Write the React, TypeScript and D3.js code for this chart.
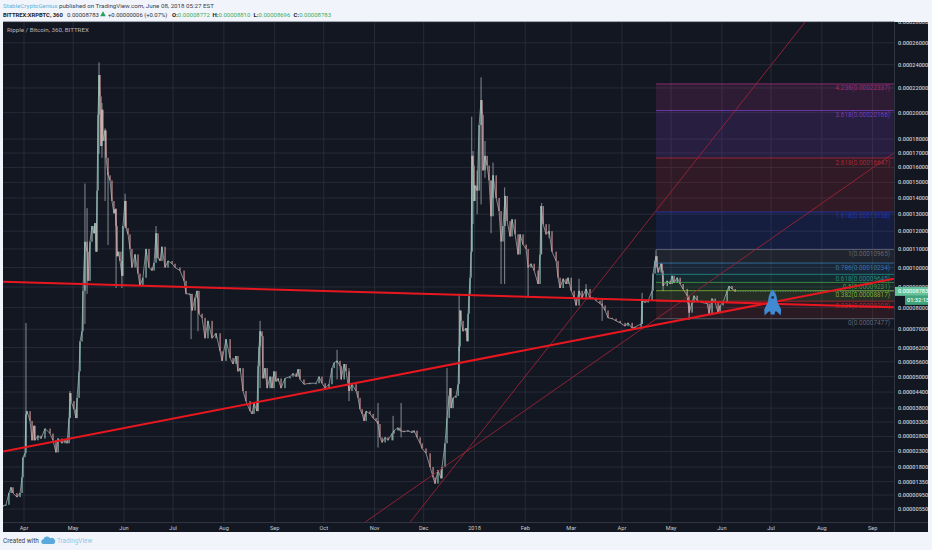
import * as d3 from "d3";

// prices are in satoshi (1e-8 BTC), days are counted from 2017-04-01
const barDays = [
  -12.8, -11, -9.2, -7.9, -6.7, -4.3, -2.4, -1.2, -0.6, 0.6, 1.2, 1.8, 3.7, 4.9, 6.1, 6.7, 8.5, 10.4, 12.8, 15.9,
  17.7, 19.5, 20.8, 23.2, 25, 26.3, 27.5, 28.1, 28.7, 30.5, 31.7, 32.4, 33.6, 34.2, 35.4, 36, 37.2, 38.5, 39.1, 40.3,
  41.5, 42.7, 43.3, 44, 44.6, 45.2, 45.8, 46.4, 47, 47.6, 48.2, 49.5, 50.1, 51.3, 52.5, 53.7, 54.9, 55.6, 56.2, 56.8,
  57.4, 58.6, 59.8, 60.4, 61.7, 62.3, 63.5, 64.7, 65.9, 67.8, 69.6, 70.8, 72.6, 74.5, 76.3, 78.1, 79.4, 80.6, 81.8, 83,
  84.2, 86.1, 87.9, 90.4, 92.2, 95.2, 97.7, 98.9, 101.3, 102.6, 104.4, 105.6, 106.8, 108.7, 110.5, 112.3, 114.8, 117.2, 119.7, 120.9,
  123.3, 125.8, 127.6, 129.4, 130.6, 131.9, 133.7, 135.5, 138, 139.2, 140.4, 142.2, 142.9, 143.5, 144.1, 145.3, 145.9, 147.1, 148.4, 150.2,
  151.4, 152.6, 153.8, 155.1, 156.9, 159.3, 162.4, 164.2, 166.1, 167.3, 168.5, 170.9, 174.6, 178.3, 180.1, 181.9, 183.8, 186.2, 188, 189.3,
  191.1, 192.9, 193.6, 195.4, 196.6, 198.4, 200.2, 202.7, 203.9, 205.1, 206.4, 207.6, 208.8, 211.2, 213.1, 214.9, 216.1, 217.3, 218.6, 220.4,
  222.2, 224.7, 225.9, 228.3, 229.5, 232, 234.4, 236.9, 238.1, 239.9, 241.8, 243, 245.4, 247.9, 249.7, 250.9, 252.7, 254.6, 255.2, 257,
  258.2, 259.5, 260.1, 260.7, 261.9, 263.7, 265, 265.6, 266.2, 266.8, 268, 269.8, 270.5, 271.1, 271.7, 272.3, 272.9, 273.5, 274.1, 274.7,
  275.3, 276.6, 277.8, 279, 279.6, 280.2, 281.4, 282.7, 283.9, 285.1, 286.3, 288.2, 290, 291.2, 292.4, 293.7, 294.9, 296.7, 297.9, 299.8,
  301.6, 302.8, 304.6, 306.5, 307.7, 309.5, 311.4, 313.8, 315, 315.6, 316.9, 318.7, 320.5, 322.3, 324.8, 326, 327.2, 329.1, 330.9, 332.1,
  334, 335.8, 337, 338.8, 340.7, 343.1, 345.5, 347.4, 349.2, 351.6, 352.9, 354.7, 356.5, 359, 361.4, 363.9, 366.9, 368.7, 371.2, 373,
  376.7, 377.3, 379.1, 381, 383.4, 384, 385.2, 385.8, 386.5, 387.1, 388.9, 389.5, 390.1, 392.6, 394.4, 395.6, 396.8, 398.7, 400.5, 402.3,
  404.8, 405.4, 406, 407.8, 409, 410.9, 413.9, 417, 418.2, 420, 421.9, 423.7, 424.9, 426.7, 429.2, 430.4, 432.2, 434.1,
];

const barCloses = [
  640, 670, 1010, 1180, 1010, 890, 1010, 1480, 2110, 2240, 3570, 3690, 3340, 2670, 3170, 2670, 2830, 2730, 3070, 2900,
  2670, 2270, 2730, 2570, 2670, 2570, 3440, 4360, 4060, 3760, 3440, 4180, 5210, 6460, 6910, 8810, 11400, 10850, 9310, 11400,
  12300, 11880, 12470, 10850, 14470, 19840, 23100, 21300, 17500, 20230, 17860, 18640, 16670, 15470, 15130, 13810, 13060, 13310, 12300, 10600,
  10850, 10350, 9570, 12300, 13810, 12180, 11820, 11000, 10000, 10700, 9680, 9050, 9470, 11000, 10000, 9840, 10250, 11880, 10500, 10350,
  11120, 10000, 10350, 10200, 10000, 9840, 9310, 8660, 8660, 7860, 8470, 8810, 7710, 7520, 6600, 7380, 6600, 6820, 6040, 5640,
  6560, 5760, 5510, 5840, 5210, 5340, 4440, 4060, 3690, 3590, 3990, 3690, 5430, 6240, 6910, 6690, 4930, 5340, 4550, 5000,
  4550, 5210, 4810, 4930, 4550, 4930, 5000, 5130, 5000, 5300, 4890, 4700, 4740, 4740, 5000, 4740, 4550, 4700, 5340, 5560,
  5640, 5430, 4890, 5510, 5210, 4440, 4700, 4440, 4180, 3760, 3590, 3340, 3690, 3590, 3440, 3340, 3230, 2770, 2600, 2770,
  2670, 2900, 3000, 3100, 3000, 2960, 3000, 2930, 3000, 2770, 2570, 2400, 2240, 1800, 1480, 1290, 1700, 1450, 1800, 2570,
  3440, 4250, 4550, 3800, 4180, 4250, 4700, 6240, 7860, 7380, 6910, 7050, 6470, 7710, 8660, 9470, 10850, 16800, 16130, 13810,
  14800, 14470, 19040, 21000, 19840, 15800, 16800, 16130, 15130, 12880, 15470, 14000, 13190, 11410, 12300, 14130, 12590, 11700, 12700, 11820,
  10700, 11820, 11240, 11000, 10000, 10200, 9840, 9150, 10700, 13500, 12410, 11820, 12000, 10850, 10350, 9470, 8950, 9420, 9150, 9470,
  8810, 8470, 8100, 8810, 8470, 8900, 8470, 8470, 8330, 8190, 8100, 7860, 7520, 7480, 7380, 7290, 7140, 7290, 7050, 7100,
  7240, 8330, 8240, 8330, 8810, 9680, 10350, 10600, 10000, 9740, 10200, 9840, 9050, 9310, 9150, 9570, 9200, 9470, 9150, 8900,
  8570, 8190, 7760, 8240, 8570, 8330, 8240, 8190, 7710, 8430, 8240, 7760, 8100, 8240, 8810, 9050, 8900, 8783,
];

// long wicks
const wickDays = [1.2, 28.1, 37.2, 38.5, 45.8, 47.6, 49.5, 51.3, 56.2, 59.8, 61.7, 80.6, 102, 106.2, 144.1, 191.1, 198.4, 216.1, 225.3, 230.2, 258.2, 265.6, 273.3, 274.1, 276.6, 279, 281.4, 285.1, 286.3, 291.2, 293.4, 307.7, 316, 320.5, 338.8, 343.1, 352.9, 377.3, 385.8, 390.1, 406];
const wickHighs = [7280, 4440, 14930, 13370, 24200, 20770, 18800, 15670, 13370, 10850, 14270, 12300, 8660, 8470, 7380, 6100, 5340, 3990, 3520, 3990, 5340, 8660, 19690, 17140, 15800, 22900, 17860, 15130, 16330, 11410, 14670, 10000, 13690, 12410, 9420, 9150, 8430, 8710, 10950, 9570, 8570];
const wickLows = [2430, 3440, 7240, 8660, 16930, 16670, 13810, 11220, 8950, 8950, 12180, 10500, 6560, 6910, 4550, 4890, 4060, 2430, 2670, 2770, 3440, 6040, 10850, 12420, 13000, 13600, 15300, 11880, 14000, 9150, 9150, 8470, 10700, 11600, 8470, 8570, 7380, 7240, 10000, 8800, 7420];

const priceTicks = [28000, 26000, 24000, 22000, 20000, 18000, 17000, 16000, 15000, 14000, 13000, 12000, 11000, 10000, 9000, 8000, 7000, 6200, 5600, 5000, 4400, 3800, 3300, 2800, 2300, 1800, 1350, 950, 550];

const fibRatios = ["0", "0.236", "0.382", "0.5", "0.618", "0.786", "1", "1.618", "2.618", "3.618", "4.236"];
const fibPrices = [7477, 8305, 8817, 9231, 9645, 10234, 10965, 13138, 16647, 20166, 22337];
const fibColors = ["#787b86", "#c62c36", "#9ccc3c", "#4caf50", "#26a69a", "#3d8bc9", "#787b86", "#2a3fd0", "#c62c36", "#8e44d8", "#b8348c"];
const fibStartDay = 385.8;
const fibEndDay = 531;

// drawn trend lines: [start, end]
const flatLineDays = [-12.8, 531];
const flatLinePrices = [9260, 8020];
const risingLineDays = [-12.8, 531];
const risingLinePrices = [2300, 9420];
const steepLineDays = [235.7, 476.8];
const steepLinePrices = [186, 28000];
const midLineDays = [208.2, 531];
const midLinePrices = [186, 17000];

const lastPrice = 8783;
const rocketDay = 457;
const rocketPrice = 8240;

const W = 932;
const H = 550;
const PANE = { left: 3, right: 894.5, top: 22, bottom: 522.5, outer: 928, end: 532 };
const OFFSET = 10400; // the axis is log(price + offset)
const T0 = Date.UTC(2017, 3, 1);
const dayDate = (d: number) => new Date(T0 + d * 864e5);

const x = d3.scaleUtc().domain([new Date(T0), new Date(Date.UTC(2018, 8, 1))]).range([24, 872.6]);
const yLog = d3.scaleLog().domain([550 + OFFSET, 28000 + OFFSET]).range([509, 22]);
const y = (p: number) => yLog(p + OFFSET);
const X = (d: number) => x(dayDate(d));
const fmt = (p: number) => (p * 1e-8).toFixed(8);
const monthFmt = (d: Date) => (d.getUTCMonth() === 0 ? d3.utcFormat("%Y")(d) : d3.utcFormat("%b")(d));
const FONT = "Roboto, 'Liberation Sans', sans-serif";

const closeLine = d3.line<number>().x((_, i) => X(barDays[i])).y((p) => y(p));
const trend = (days: number[], prices: number[]) =>
  d3.line<number>().x((d) => X(d)).y((_, i) => y(prices[i]))(days) ?? "";

export default function App() {
  const months = x.ticks(d3.utcMonth.every(1)!);
  return (
    <svg width={W} height={H} viewBox={`0 0 ${W} ${H}`} fontFamily={FONT}
      style={{ position: "absolute", left: 0, top: 0, display: "block", background: "#f1f4fa" }}>
      <defs>
        <clipPath id="pane"><rect x={PANE.left} y={PANE.top} width={PANE.right - PANE.left} height={PANE.bottom - PANE.top} /></clipPath>
        <clipPath id="axis"><rect x={PANE.right} y={PANE.top} width={PANE.outer - PANE.right} height={PANE.end - PANE.top} /></clipPath>
        <filter id="soft" x="0" y="0" width="100%" height="100%"><feGaussianBlur stdDeviation={0.3} /></filter>
      </defs>

      {/* header */}
      <text x={3} y={8} fontSize={6.2}>
        <tspan fill="#5eb4e0">StableCryptoGenius</tspan>
        <tspan fill="#3a3f4a"> published on TradingView.com, June 08, 2018 05:27 EST</tspan>
      </text>
      <text x={3} y={17} fontSize={5.8} fill="#222" fontWeight={700}>BITTREX:XRPBTC, 360</text>
      <text x={67} y={17} fontSize={6} fill="#333">0.00008783</text>
      <path d={d3.symbol(d3.symbolTriangle, 14)() ?? ""} transform="translate(103,14.5)" fill="#2e9e5b" />
      <text x={108} y={17} fontSize={5.9} fill="#333">+0.00000006 (+0.07%)</text>
      {[["O:", "0.00008772", 172], ["H:", "0.00008810", 212.5], ["L:", "0.00008696", 253.5], ["C:", "0.00008783", 293.5]].map(([k, v, px]) => (
        <text key={k as string} x={px as number} y={17} fontSize={6}>
          <tspan fill="#222" fontWeight={700}>{k}</tspan>
          <tspan fill="#3cae5c">{v}</tspan>
        </text>
      ))}

      {/* panes */}
      <rect x={PANE.left} y={PANE.top} width={PANE.outer - PANE.left} height={PANE.end - PANE.top} fill="#131722" />

      {/* grid */}
      <g stroke="#2c303c" strokeWidth={0.8}>
        {priceTicks.map((p) => <line key={p} x1={PANE.left} x2={PANE.right} y1={y(p)} y2={y(p)} />)}
        {months.map((m) => <line key={+m} x1={x(m)} x2={x(m)} y1={PANE.top} y2={PANE.bottom} />)}
      </g>
      <g stroke="#3a3e4a" strokeWidth={0.8}>
        <line x1={PANE.right} x2={PANE.right} y1={PANE.top} y2={PANE.end} />
        <line x1={PANE.left} x2={PANE.outer} y1={PANE.bottom} y2={PANE.bottom} />
      </g>

      <g clipPath="url(#pane)">
        {/* fib bands */}
        {fibPrices.slice(1).map((p, i) => (
          <rect key={p} x={X(fibStartDay)} width={X(fibEndDay) - X(fibStartDay)} y={y(p)} height={y(fibPrices[i]) - y(p)}
            fill={fibColors[i + 1]} fillOpacity={i + 1 >= 7 ? 0.17 : 0.13} />
        ))}

        {/* candles */}
        <g filter="url(#soft)">
          <path d={closeLine(barCloses) ?? ""} fill="none" stroke="#d0d2d6" strokeWidth={0.7} strokeOpacity={0.85} />
          <g strokeWidth={0.7}>
            {wickDays.map((d, i) => (
              <line key={d} x1={X(d)} x2={X(d)} y1={y(wickHighs[i])} y2={y(wickLows[i])} stroke="#b4bbc0" />
            ))}
          </g>
          {barCloses.map((c, i) => {
            const o = i > 0 ? barCloses[i - 1] : c;
            const top = Math.min(y(o), y(c));
            return (
              <rect key={i} x={X(barDays[i]) - 0.55} width={1.1} y={top} height={Math.max(1, Math.abs(y(o) - y(c)))}
                fill={c >= o ? "#9ddccb" : "#eda9a6"} fillOpacity={0.9} />
            );
          })}
        </g>

        {/* fib lines */}
        {fibPrices.map((p, i) => (
          <line key={p} x1={X(fibStartDay)} x2={X(fibEndDay)} y1={y(p)} y2={y(p)} stroke={fibColors[i]} strokeWidth={0.9} strokeOpacity={0.75} />
        ))}
        {fibPrices.map((p, i) => (
          <text key={p} x={890} y={y(p) + 6.5} textAnchor="end" fontSize={6.4} fill={fibColors[i]} fillOpacity={0.8}>
            {`${fibRatios[i]}(${fmt(p)})`}
          </text>
        ))}
        <line x1={X(434.1)} x2={PANE.right} y1={y(lastPrice)} y2={y(lastPrice)} stroke="#5fc59a" strokeWidth={0.6} strokeDasharray="1 1.5" />

        {/* trend lines */}
        <path d={trend(steepLineDays, steepLinePrices)} stroke="#9c2238" strokeWidth={0.9} fill="none" />
        <path d={trend(midLineDays, midLinePrices)} stroke="#9c2238" strokeWidth={0.9} fill="none" />
        <path d={trend(flatLineDays, flatLinePrices)} stroke="#e8171f" strokeWidth={2} fill="none" />
        <path d={trend(risingLineDays, risingLinePrices)} stroke="#e8171f" strokeWidth={2} fill="none" />

        {/* rocket */}
        <g transform={`translate(${X(rocketDay)},${y(rocketPrice)})`} fill="#4189d0">
          <path d="M0,-13 C4,-9 5,-4 4.5,5 L-4.5,5 C-5,-4 -4,-9 0,-13 Z" />
          <path d="M-4.5,-1 L-8.5,7 L-8,13 L-4,9 L4,9 L8,13 L8.5,7 L4.5,-1 Z" />
          <path d="M-2.5,8 L2.5,8 L2,12 L-2,12 Z" />
          <circle cy={-5} r={1.4} fill="#20304a" />
        </g>
      </g>

      <text x={7} y={32} fontSize={6.2} fill="#b2b5be">Ripple / Bitcoin, 360, BITTREX</text>

      {/* price axis */}
      <g clipPath="url(#axis)" fontWeight={500}>
        {priceTicks.map((p) => (
          <text key={p} x={898} y={y(p) + 2} fontSize={5.6} fill="#c8ccd4">{fmt(p)}</text>
        ))}
        <rect x={895} y={y(lastPrice) - 4.5} width={33} height={9} fill="#63c29a" />
        <text x={898} y={y(lastPrice) + 2} fontSize={5.6} fill="#eafff5">{fmt(lastPrice)}</text>
        <rect x={905} y={y(lastPrice) + 4.5} width={23} height={9} fill="#3fa37c" />
        <text x={907} y={y(lastPrice) + 11} fontSize={5.6} fill="#eafff5">01:32:13</text>
      </g>

      {/* time axis */}
      {months.map((m) => (
        <text key={+m} x={x(m)} y={530} textAnchor="middle" fontSize={5.6} fill="#c8ccd4">{monthFmt(m)}</text>
      ))}

      {/* footer */}
      <text x={3} y={543} fontSize={6.4} fill="#3a3f4a">Created with</text>
      <path d="M43,544 a2.4,2.4 0 0 1 0.5,-4.7 a3.6,3.6 0 0 1 6.6,-1 a3,3 0 0 1 3.4,5.7 Z" fill="#5aa9dc" />
      <text x={57} y={543} fontSize={6.4} fill="#8cc9ea">TradingView</text>
    </svg>
  );
}
